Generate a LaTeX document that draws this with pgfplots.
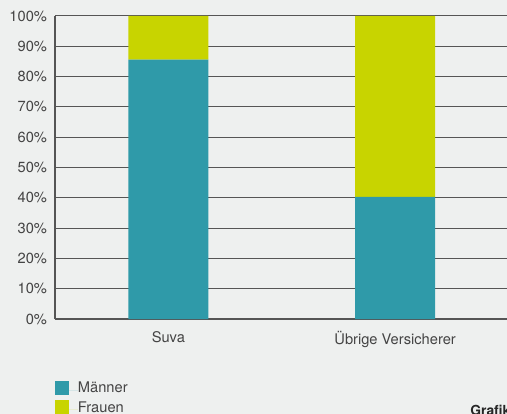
\documentclass[border=0pt]{standalone}
\usepackage{pgfplots}
\pgfplotsset{compat=1.18}
\usepackage{fontspec}
\setmainfont{TeX Gyre Heros}
\definecolor{bg}{HTML}{EEF0EF}
\definecolor{teal}{HTML}{2F9AA9}
\definecolor{lime}{HTML}{C8D400}
\definecolor{txt}{HTML}{444444}
\definecolor{gridc}{HTML}{555555}
\begin{document}
\begin{tikzpicture}
\useasboundingbox (-41.25pt,-71.25pt) rectangle (339pt,239.25pt);
\fill[bg] (-41.25pt,-71.25pt) rectangle (339pt,239.25pt);
\begin{axis}[
  scale only axis,
  width=340.125pt, height=227.25pt,
  ybar stacked, bar width=60pt,
  xmin=-0.5, xmax=1.5, ymin=0, ymax=100,
  xtick={0,1}, xticklabels={Suva,Übrige Versicherer},
  ytick={0,10,...,100},
  yticklabel={\pgfmathprintnumber{\tick}\%},
  /pgf/number format/assume math mode=true,
  major tick length=0pt,
  axis lines*=left,
  axis line style={gridc, line width=0.9pt},
  ymajorgrids, grid style={gridc, line width=0.75pt},
  ticklabel style={font=\fontsize{11}{13}\selectfont, text=txt},
  yticklabel style={xshift=-2.5pt},
  xticklabel style={yshift=-6pt},
  legend style={at={(axis description cs:0,-0.203)}, anchor=north west,
    draw=none, fill=none, inner sep=0pt, row sep=1.5pt,
    font=\fontsize{11}{13}\selectfont, text=txt,
    nodes={inner sep=0pt, anchor=west, text height=7.6pt, text depth=4pt}},
  legend cell align=left,
  legend image code/.code={\fill[#1] (0pt,-3.2pt) rectangle (10.5pt,7.3pt); \path (0pt,0pt) -- (17pt,0pt);},
]
\addplot[fill=teal, draw=none] coordinates {(0,85.6) (1,40.3)};
\addplot[fill=lime, draw=none] coordinates {(0,14.4) (1,59.7)};
\legend{Männer,Frauen}
\end{axis}
\node[anchor=north west, inner sep=0pt, font=\bfseries\fontsize{10.4}{12}\selectfont, text=black!85] at (311.25pt,-64.5pt) {Grafik};
\end{tikzpicture}
\end{document}
